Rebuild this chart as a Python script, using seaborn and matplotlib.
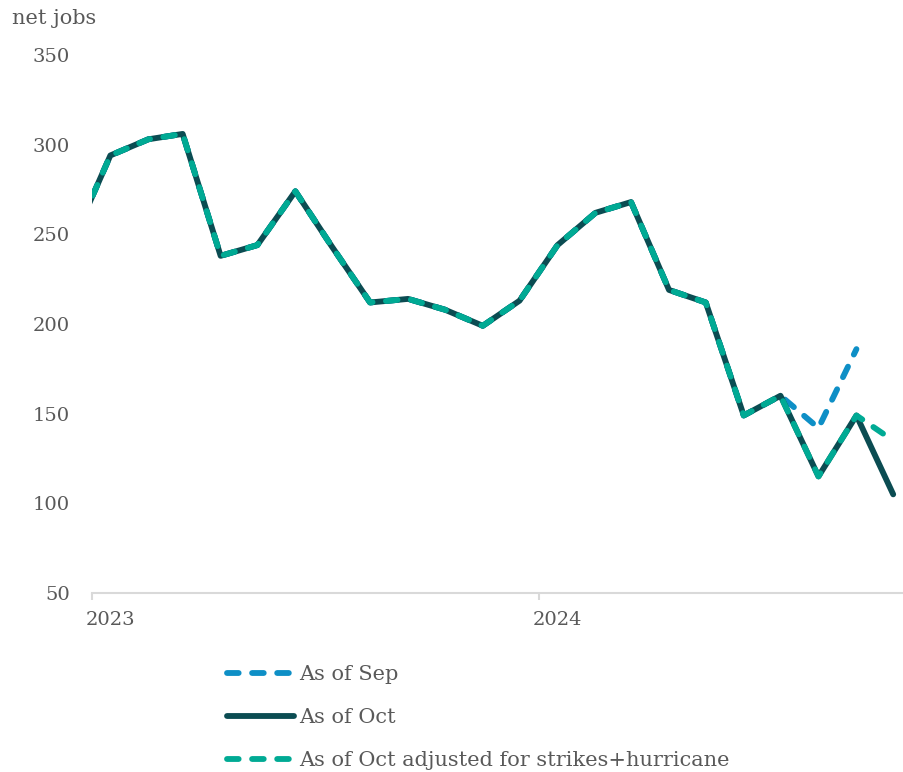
import matplotlib
matplotlib.use("Agg")
import matplotlib.pyplot as plt
import pandas as pd
import seaborn as sns

# Monthly payroll gains (thousands, 3-month average), plotted mid-month
months = pd.date_range("2022-12-01", periods=23, freq="MS") + pd.Timedelta(days=15)
as_of_sep = [246, 294, 303, 306, 238, 244, 274, 243, 212, 214, 208, 199,
             213, 244, 262, 268, 219, 212, 149, 160, 142, 186]
as_of_oct = [246, 294, 303, 306, 238, 244, 274, 243, 212, 214, 208, 199,
             213, 244, 262, 268, 219, 212, 149, 160, 115, 149, 105]
as_of_oct_adj = [246, 294, 303, 306, 238, 244, 274, 243, 212, 214, 208, 199,
                 213, 244, 262, 268, 219, 212, 149, 160, 115, 149, 135]

series_labels = ["As of Sep", "As of Oct", "As of Oct adjusted for strikes+hurricane"]
y_ticks = [50, 100, 150, 200, 250, 300, 350]
x_tick_labels = ["2023", "2024"]

BLUE = "#0e8fc6"
DARK = "#0b4c52"
TEAL = "#00aa94"
TEXT = "#595959"

sns.set_theme(style="white")
plt.rcParams["font.family"] = ["DejaVu Serif"]

fig = plt.figure(figsize=(9.04, 7.72), dpi=100)
ax = fig.add_axes([92 / 904, 1 - 593 / 772, (903 - 92) / 904, (593 - 55) / 772])

df_sep = pd.DataFrame({"date": months[:len(as_of_sep)], "value": as_of_sep})
df_oct = pd.DataFrame({"date": months, "value": as_of_oct})
df_adj = pd.DataFrame({"date": months, "value": as_of_oct_adj})

lw = 4.2
sns.lineplot(data=df_sep, x="date", y="value", ax=ax, color=BLUE, linewidth=lw, zorder=2)
sns.lineplot(data=df_oct, x="date", y="value", ax=ax, color=DARK, linewidth=lw, zorder=3)
sns.lineplot(data=df_adj, x="date", y="value", ax=ax, color=TEAL, linewidth=lw, zorder=4)

line_sep, line_oct, line_adj = ax.get_lines()[:3]
for ln in (line_sep, line_adj):
    ln.set_linestyle((0, (2.0, 2.3)))
    ln.set_dash_capstyle("round")
line_oct.set_solid_capstyle("round")

ax.set_xlim(pd.Timestamp("2023-01-01"), pd.Timestamp("2024-10-24"))
ax.set_ylim(50, 350)
ax.set_xlabel("")
ax.set_ylabel("")

ax.set_yticks(y_ticks)
ax.set_yticklabels([str(v) for v in y_ticks])

# Year boundaries get the tick marks; the year names sit mid-January
ax.set_xticks([pd.Timestamp("2023-01-01"), pd.Timestamp("2024-01-01")])
ax.set_xticklabels(["", ""])
ax.set_xticks([pd.Timestamp("2023-01-16"), pd.Timestamp("2024-01-16")], minor=True)
ax.set_xticklabels(x_tick_labels, minor=True)

for side in ("left", "right", "top"):
    ax.spines[side].set_visible(False)
ax.spines["bottom"].set_color("#d9d9d9")
ax.spines["bottom"].set_linewidth(1.5)

ax.tick_params(axis="x", which="major", bottom=True, length=5, width=1.5,
               color="#d9d9d9")
ax.tick_params(axis="x", which="minor", bottom=False, length=0, pad=13,
               labelsize=14, labelcolor=TEXT)
ax.tick_params(axis="y", left=False, pad=10, labelsize=14, labelcolor=TEXT)
ax.grid(False)

fig.text(12 / 904, 1 - 18 / 772, "net jobs", ha="left", va="center",
         fontsize=15, color=TEXT)

leg = fig.legend([line_sep, line_oct, line_adj], series_labels,
                 loc="upper left", bbox_to_anchor=(227 / 904, 1 - 665 / 772),
                 frameon=False, fontsize=15, handlelength=3.2, handletextpad=0.25,
                 labelspacing=1.15, borderpad=0, borderaxespad=0)
for t in leg.get_texts():
    t.set_color(TEXT)

fig.savefig("out.png", dpi=100, facecolor="white")
